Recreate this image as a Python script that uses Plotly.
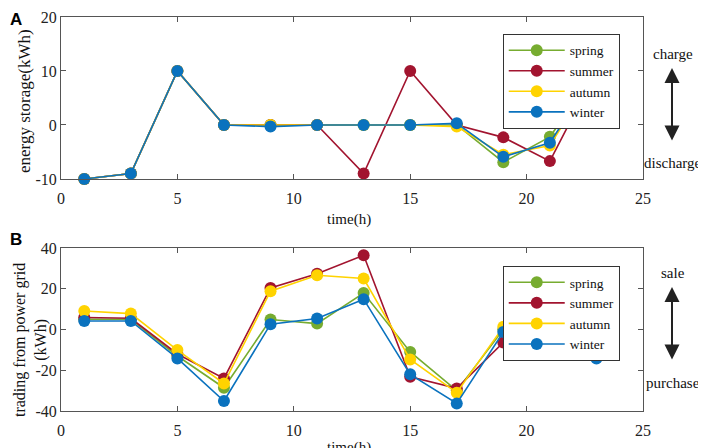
import plotly.graph_objects as go

# hours (odd hours of the day)
hours = [1, 3, 5, 7, 9, 11, 13, 15, 17, 19, 21, 23]
seasons = ['spring', 'summer', 'autumn', 'winter']
colors = ['#77AC30', '#A2142F', '#FFD300', '#0A72BE']

# (A) energy storage (kWh)
storage_spring = [-10, -9, 10, 0, 0, 0, 0, 0, 0, -6.9, -2.2, 10]
storage_summer = [-10, -9, 10, 0, 0, 0, -9, 10, 0, -2.3, -6.7, 10]
storage_autumn = [-10, -9, 10, 0, 0, 0, 0, 0, -0.3, -5.5, -3.8, 10]
storage_winter = [-10, -9, 10, 0, -0.3, 0, 0, 0, 0.3, -5.9, -3.3, 10]

# (B) trading from power grid (kWh)
grid_spring = [5, 5, -13, -28.6, 4.9, 2.9, 17.9, -11, -30, 0, -2, -12]
grid_summer = [5.9, 5.5, -12, -24, 20.4, 27.4, 36.4, -23.2, -28.9, -6.4, -2, -12]
grid_autumn = [9.1, 7.8, -10.1, -26.5, 18.8, 26.6, 25, -14.7, -31, 1.3, -3.3, -10.6]
grid_winter = [4.2, 4.2, -14.2, -35.1, 2.6, 5.4, 14.9, -22, -36.3, -1.2, -1.5, -14.2]

x_ticks = [0, 5, 10, 15, 20, 25]
top_ticks = [-10, 0, 10, 20]
bottom_ticks = [-40, -20, 0, 20, 40]

storage = [storage_spring, storage_summer, storage_autumn, storage_winter]
grid = [grid_spring, grid_summer, grid_autumn, grid_winter]

serif = 'Liberation Serif'
fig = go.Figure()

for name, c, ys in zip(seasons, colors, storage):
    fig.add_trace(go.Scatter(x=hours, y=ys, name=name, mode='lines+markers',
                             line=dict(color=c, width=1.6),
                             marker=dict(size=12, color=c),
                             cliponaxis=False, xaxis='x', yaxis='y', legend='legend'))
for name, c, ys in zip(seasons, colors, grid):
    fig.add_trace(go.Scatter(x=hours, y=ys, name=name, mode='lines+markers',
                             line=dict(color=c, width=1.6),
                             marker=dict(size=12, color=c),
                             cliponaxis=False, xaxis='x2', yaxis='y2', legend='legend2'))

axis_style = dict(showgrid=False, zeroline=False, showline=True, linecolor='#555',
                  linewidth=1, mirror='allticks', ticks='inside', ticklen=5,
                  tickcolor='#555', automargin=False,
                  tickfont=dict(family=serif, size=16, color='#222'))

legend_style = dict(xanchor='left', yanchor='top', bgcolor='white',
                    bordercolor='#333', borderwidth=1, tracegroupgap=0,
                    itemwidth=56,
                    font=dict(family=serif, size=13.5, color='#111'))

# page has an 8px body margin, so the figure is drawn 8px smaller
fig.update_layout(
    width=698, height=440,
    margin=dict(l=53, r=63, t=9, b=37, autoexpand=False),
    paper_bgcolor='white', plot_bgcolor='white',
    font=dict(family=serif, size=15, color='#222'),
    showlegend=True,
    xaxis=dict(domain=[0, 1], range=[0, 25], tickvals=x_ticks, anchor='y',
               ticklabelstandoff=5, **axis_style),
    yaxis=dict(domain=[0.589, 1], range=[-10, 20], tickvals=top_ticks,
               ticktext=[str(v) for v in top_ticks], anchor='x', **axis_style),
    xaxis2=dict(domain=[0, 1], range=[0, 25], tickvals=x_ticks, anchor='y2',
                ticklabelstandoff=5, **axis_style),
    yaxis2=dict(domain=[0, 0.4137], range=[-40, 40], tickvals=bottom_ticks,
                ticktext=[str(v) for v in bottom_ticks], anchor='x2', **axis_style),
    legend=dict(x=0.759, y=0.957, **legend_style),
    legend2=dict(x=0.759, y=0.368, **legend_style),
)

def px(x):
    return (x - 61) / 582

def py(y):
    return (411 - y) / 394

ann = []
ann.append(dict(text='<b>A</b>', x=px(16), y=py(8), yanchor='top',
                font=dict(family='Liberation Sans', size=17, color='black')))
ann.append(dict(text='<b>B</b>', x=px(16), y=py(228), yanchor='top',
                font=dict(family='Liberation Sans', size=17, color='black')))
ann.append(dict(text='energy storage(kWh)', x=px(25), y=py(101), textangle=-90,
                font=dict(family=serif, size=17, color='#111')))
ann.append(dict(text='trading from power grid<br>(kWh)', x=px(30), y=py(340), textangle=-90,
                font=dict(family=serif, size=16, color='#111')))
ann.append(dict(text='time(h)', x=px(349), y=py(219), font=dict(family=serif, size=15, color='#111')))
ann.append(dict(text='time(h)', x=px(349), y=py(447), font=dict(family=serif, size=15, color='#111')))
ann.append(dict(text='charge', x=px(673), y=py(54), font=dict(family=serif, size=15, color='#111')))
ann.append(dict(text='discharge', x=px(673), y=py(163), font=dict(family=serif, size=15, color='#111')))
ann.append(dict(text='sale', x=px(673), y=py(273), font=dict(family=serif, size=15, color='#111')))
ann.append(dict(text='purchase', x=px(673), y=py(383), font=dict(family=serif, size=15, color='#111')))
for a in ann:
    a.setdefault('yanchor', 'middle')
    a.update(xref='paper', yref='paper', showarrow=False, xanchor='center')

for top, bottom in [(68, 142), (287, 361)]:
    ann.append(dict(text='', x=px(672), y=py(top), xref='paper', yref='paper',
                    ax=0, ay=bottom - top, showarrow=True, arrowside='end+start',
                    arrowhead=2, arrowsize=1.5, arrowwidth=2, arrowcolor='#222'))

fig.update_layout(annotations=ann)
fig.write_html("out.html")
